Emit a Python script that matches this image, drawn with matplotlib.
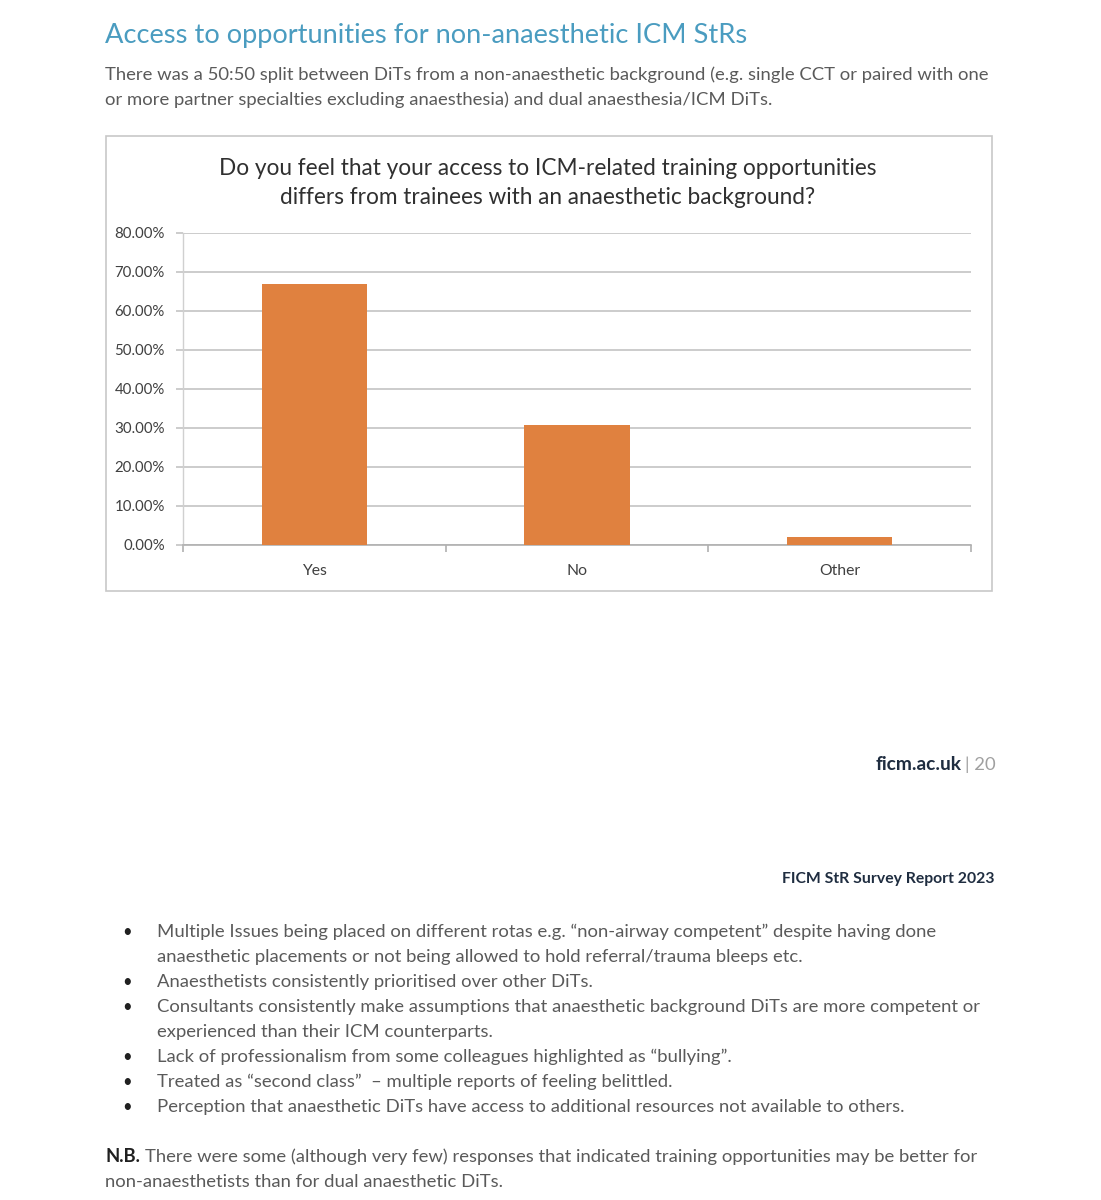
import matplotlib.pyplot as plt
from matplotlib.patches import Rectangle

categories = ["Yes", "No", "Other"]
values = [66.9, 30.7, 2.1]
yticks = [0, 10, 20, 30, 40, 50, 60, 70, 80]

page_title = "Access to opportunities for non-anaesthetic ICM StRs"
intro_lines = [
    "There was a 50:50 split between DiTs from a non-anaesthetic background (e.g. single CCT or paired with one",
    "or more partner specialties excluding anaesthesia) and dual anaesthesia/ICM DiTs.",
]
chart_title = "Do you feel that your access to ICM-related training opportunities\ndiffers from trainees with an anaesthetic background?"
bullets = [
    ["Multiple Issues being placed on different rotas e.g. \u201cnon-airway competent\u201d despite having done",
     "anaesthetic placements or not being allowed to hold referral/trauma bleeps etc."],
    ["Anaesthetists consistently prioritised over other DiTs."],
    ["Consultants consistently make assumptions that anaesthetic background DiTs are more competent or",
     "experienced than their ICM counterparts."],
    ["Lack of professionalism from some colleagues highlighted as \u201cbullying\u201d."],
    ["Treated as \u201csecond class\u201d  \u2013 multiple reports of feeling belittled."],
    ["Perception that anaesthetic DiTs have access to additional resources not available to others."],
]
nb_lines = [
    "There were some (although very few) responses that indicated training opportunities may be better for",
    "non-anaesthetists than for dual anaesthetic DiTs.",
]

W, H = 1101, 1200
plt.rcParams['font.family'] = ['Lato', 'DejaVu Sans']
fig = plt.figure(figsize=(W / 100, H / 100), dpi=100)
fig.patch.set_facecolor('white')

def fx(px):
    return px / W

def fy(py):
    return 1 - py / H

text_grey = '#5a5a5a'
navy = '#1f2d40'
body = 13.3

fig.text(fx(105), fy(35), page_title, color='#4a9cc0', fontsize=19.6,
         ha='left', va='center')
for i, line in enumerate(intro_lines):
    fig.text(fx(105), fy(75 + 25 * i), line, color=text_grey, fontsize=body,
             ha='left', va='center')

# chart frame
fig.patches.append(Rectangle((fx(106), fy(591)), fx(992) - fx(106), fy(136) - fy(591),
                             transform=fig.transFigure, fill=False,
                             edgecolor='#c8c8c8', lw=1.2))
fig.text(fx(548), fy(183), chart_title, color='#303030', fontsize=16.3,
         ha='center', va='center', linespacing=1.52)

ax = fig.add_axes([fx(183), fy(545), fx(971) - fx(183), fy(233) - fy(545)])
x = list(range(len(categories)))
ax.bar(x, values, width=0.4, color='#e0813f', zorder=3)
ax.set_xlim(-0.5, len(categories) - 0.5)
ax.set_ylim(0, 80)
ax.set_yticks(yticks)
ax.set_yticklabels([f"{v:.2f}%" for v in yticks], fontsize=10.8, color='#404040')
ax.yaxis.grid(True, color='#c4c4c4', lw=1.2, zorder=0)
ax.set_xticks([i - 0.5 for i in range(len(categories) + 1)])
ax.set_xticklabels([])
ax.set_xticks(x, minor=True)
ax.set_xticklabels(categories, minor=True, fontsize=11.3, color='#404040')
ax.tick_params(axis='x', which='major', length=5, color='#b0b0b0', width=1.2)
ax.tick_params(axis='x', which='minor', length=0, pad=14)
ax.tick_params(axis='y', length=5, color='#c4c4c4', width=1.2, pad=8)
for s in ['top', 'right']:
    ax.spines[s].set_visible(False)
ax.spines['bottom'].set_color('#b0b0b0')
ax.spines['bottom'].set_linewidth(1.2)
ax.spines['left'].set_color('#d0d0d0')
ax.spines['left'].set_linewidth(1.0)

# footer
fig.text(fx(962), fy(765), "ficm.ac.uk", color=navy, fontsize=13.8,
         fontweight='bold', ha='right', va='center')
fig.text(fx(965), fy(765), "| 20", color='#a0a0a0', fontsize=13.3,
         ha='left', va='center')
fig.text(fx(995), fy(879), "FICM StR Survey Report 2023", color=navy, fontsize=11.3,
         fontweight='bold', ha='right', va='center')

y = 932
for item in bullets:
    fig.text(fx(127), fy(y), "\u2022", color='#202020', fontsize=12, ha='center', va='center')
    for line in item:
        fig.text(fx(157), fy(y), line, color=text_grey, fontsize=body, ha='left', va='center')
        y += 25

fig.text(fx(105), fy(1157), "N.B.", color='#202020', fontsize=body, fontweight='bold',
         ha='left', va='center')
fig.text(fx(145), fy(1157), nb_lines[0], color=text_grey, fontsize=body, ha='left', va='center')
fig.text(fx(105), fy(1182), nb_lines[1], color=text_grey, fontsize=body, ha='left', va='center')

fig.savefig('out.png', dpi=100, facecolor='white')
